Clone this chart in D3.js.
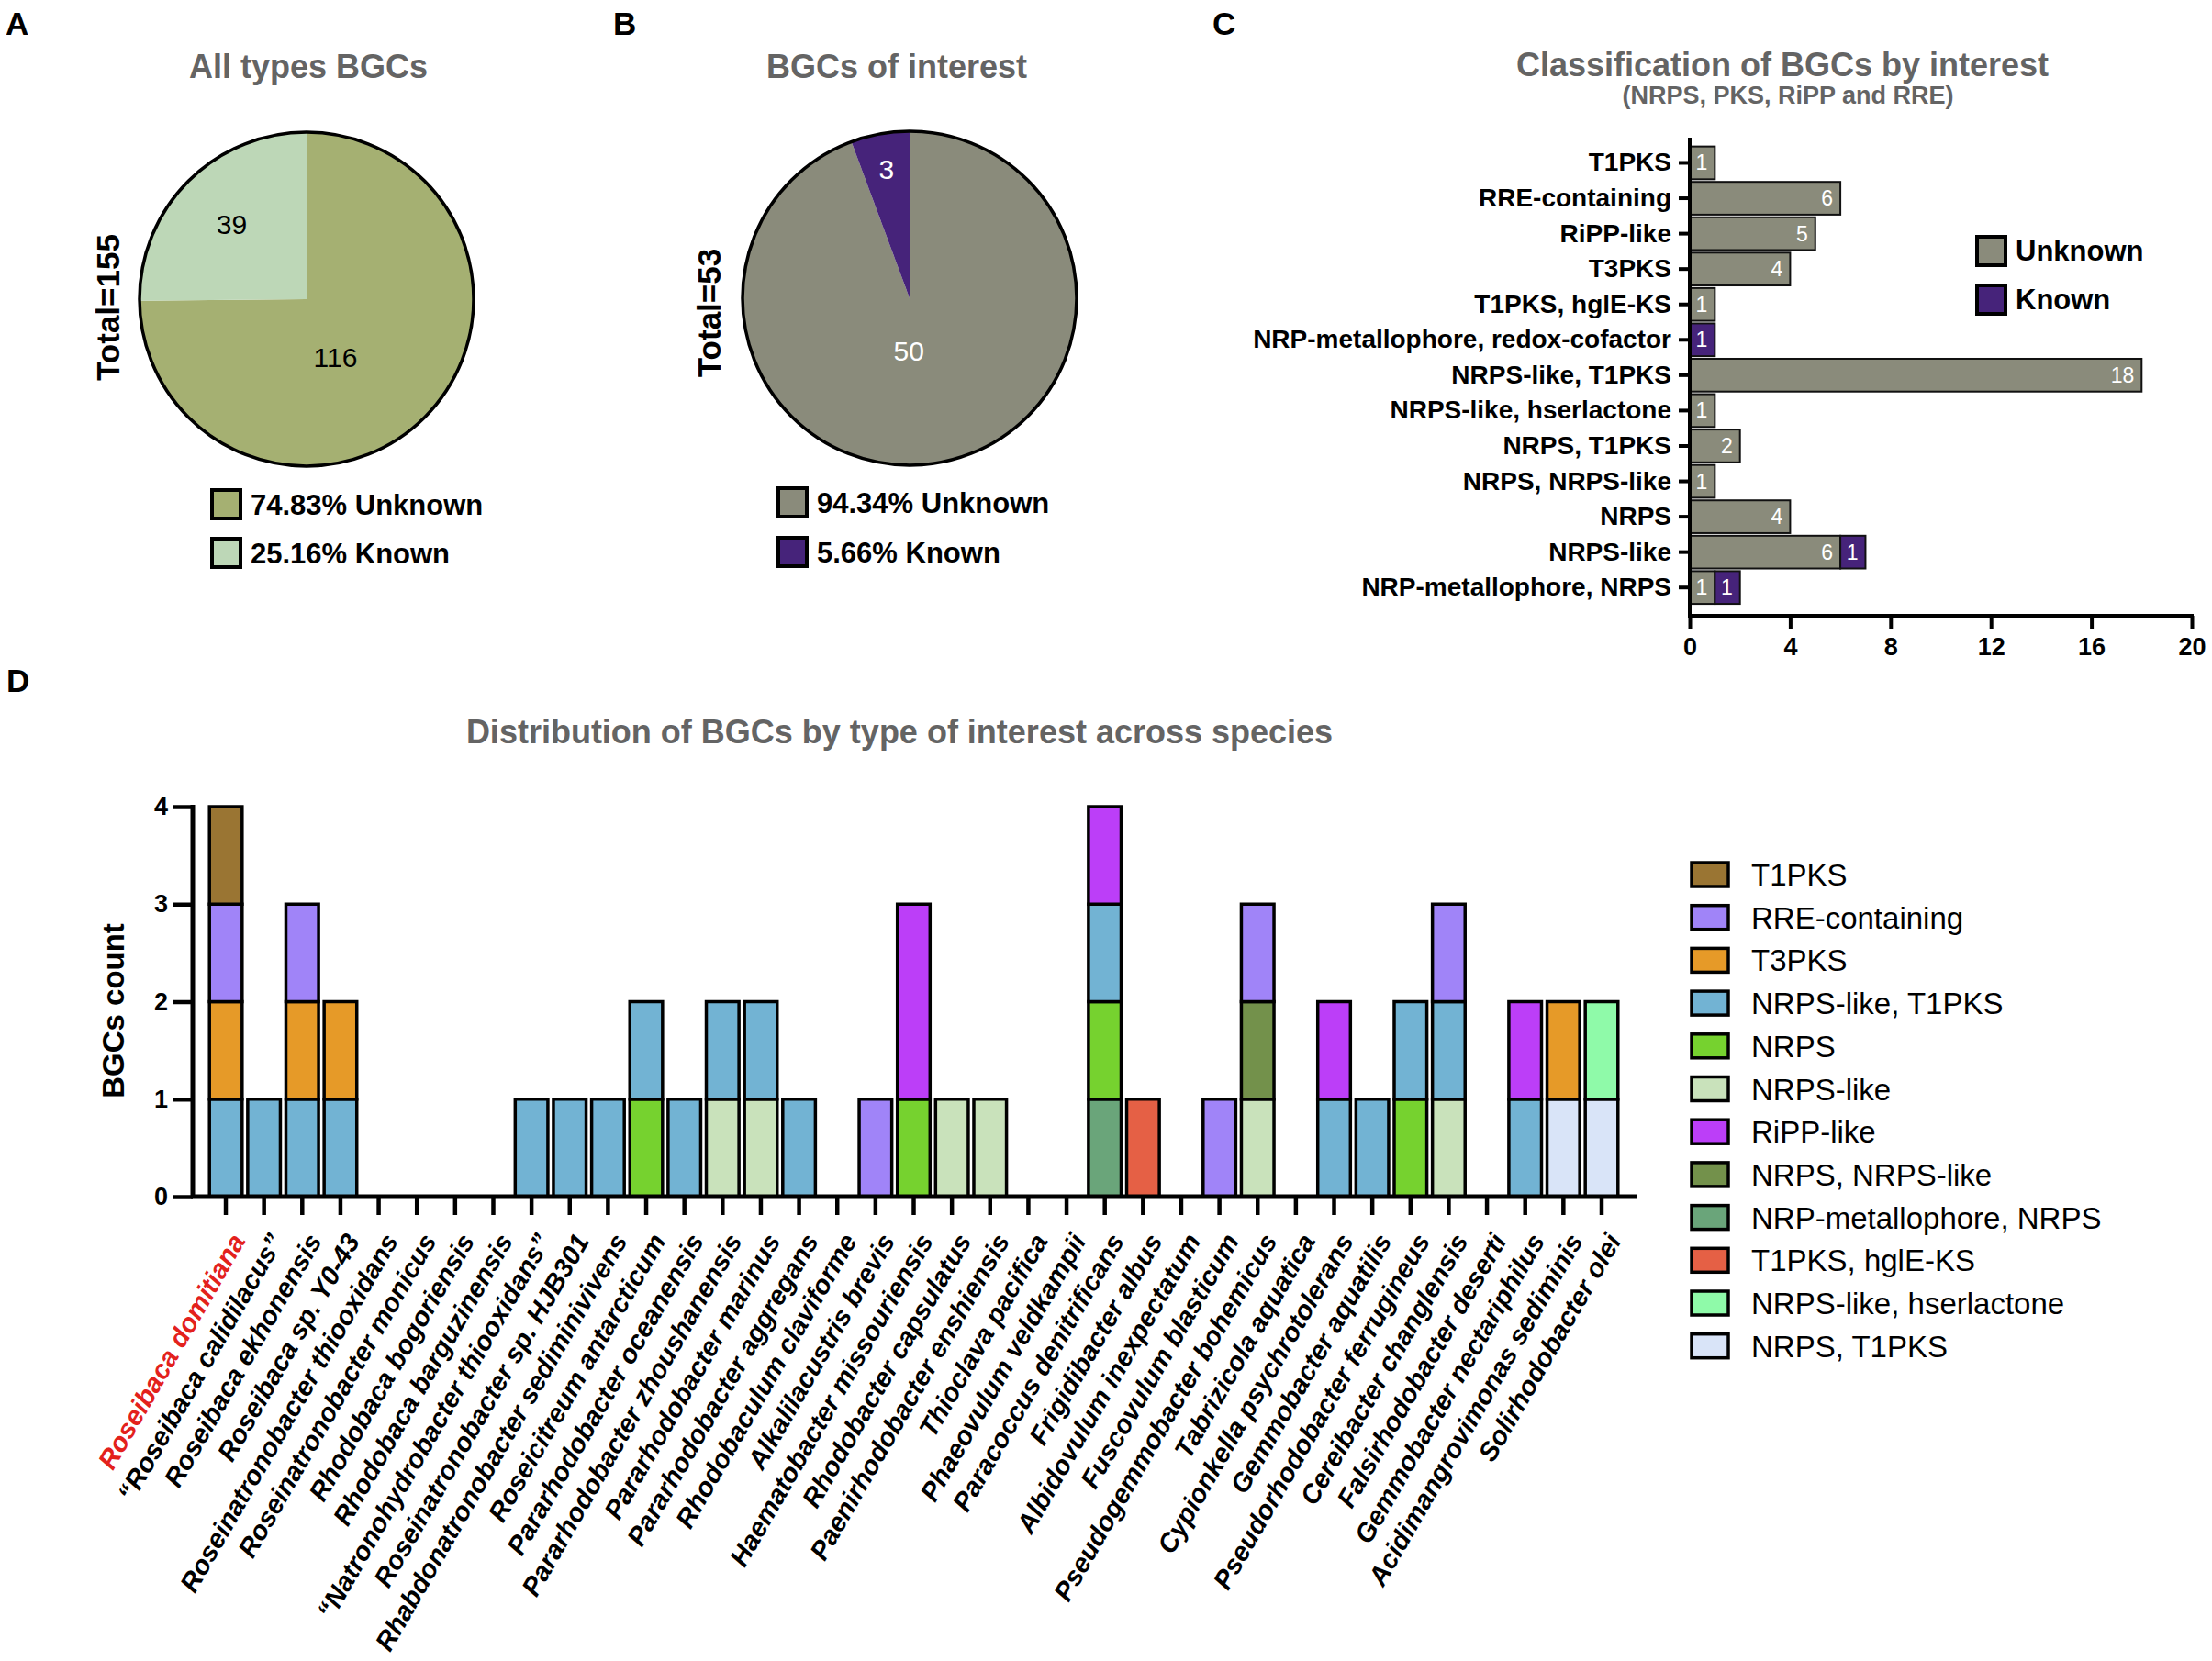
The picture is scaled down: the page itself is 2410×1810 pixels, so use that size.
<!DOCTYPE html>
<html><head><meta charset="utf-8">
<script src="https://cdn.jsdelivr.net/npm/d3@7/dist/d3.min.js"></script>
<style>body{margin:0;background:#fff}</style>
</head><body>
<svg id="chart" width="2410" height="1810" xmlns="http://www.w3.org/2000/svg"></svg>
<script>
// ---------------- DATA ----------------
const pieCategories = ["Unknown", "Known"];
const pieAValues = [116, 39];
const pieALegend = ["74.83% Unknown", "25.16% Known"];
const pieATotal = "Total=155";
const pieBValues = [50, 3];
const pieBLegend = ["94.34% Unknown", "5.66% Known"];
const pieBTotal = "Total=53";

const classCategories = ["T1PKS", "RRE-containing", "RiPP-like", "T3PKS", "T1PKS, hglE-KS",
  "NRP-metallophore, redox-cofactor", "NRPS-like, T1PKS", "NRPS-like, hserlactone", "NRPS, T1PKS",
  "NRPS, NRPS-like", "NRPS", "NRPS-like", "NRP-metallophore, NRPS"];
const classUnknown = [1, 6, 5, 4, 1, 0, 18, 1, 2, 1, 4, 6, 1];
const classKnown   = [0, 0, 0, 0, 0, 1, 0, 0, 0, 0, 0, 1, 1];
const classTicks = [0, 4, 8, 12, 16, 20];

const species = ["Roseibaca domitiana", "\u201CRoseibaca calidilacus\u201D", "Roseibaca ekhonensis",
  "Roseibaca sp. Y0-43", "Roseinatronobacter thiooxidans", "Roseinatronobacter monicus",
  "Rhodobaca bogoriensis", "Rhodobaca barguzinensis", "\u201CNatronohydrobacter thiooxidans\u201D",
  "Roseinatronobacter sp. HJB301", "Rhabdonatronobacter sediminivivens", "Roseicitreum antarcticum",
  "Pararhodobacter oceanensis", "Pararhodobacter zhoushanensis", "Pararhodobacter marinus",
  "Pararhodobacter aggregans", "Rhodobaculum claviforme", "Alkalilacustris brevis",
  "Haematobacter missouriensis", "Rhodobacter capsulatus", "Paenirhodobacter enshiensis",
  "Thioclava pacifica", "Phaeovulum veldkampii", "Paracoccus denitrificans", "Frigidibacter albus",
  "Albidovulum inexpectatum", "Fuscovulum blasticum", "Pseudogemmobacter bohemicus",
  "Tabrizicola aquatica", "Cypionkella psychrotolerans", "Gemmobacter aquatilis",
  "Pseudorhodobacter ferrugineus", "Cereibacter changlensis", "Falsirhodobacter deserti",
  "Gemmobacter nectariphilus", "Acidimangrovimonas sediminis", "Solirhodobacter olei"];
const highlightedSpecies = ["Roseibaca domitiana"];

// legend order of BGC types
const bgcTypes = ["T1PKS", "RRE-containing", "T3PKS", "NRPS-like, T1PKS", "NRPS", "NRPS-like",
  "RiPP-like", "NRPS, NRPS-like", "NRP-metallophore, NRPS", "T1PKS, hglE-KS",
  "NRPS-like, hserlactone", "NRPS, T1PKS"];
// stacking order, bottom to top
const stackOrder = ["NRPS, T1PKS", "NRP-metallophore, NRPS", "NRPS-like", "NRPS", "NRPS, NRPS-like",
  "T1PKS, hglE-KS", "NRPS-like, hserlactone", "NRPS-like, T1PKS", "RiPP-like", "T3PKS",
  "RRE-containing", "T1PKS"];
// counts per species (same order as species)
const cntT1PKS        = [1,0,0,0,0,0,0,0,0,0,0,0,0,0,0,0,0,0,0,0,0,0,0,0,0,0,0,0,0,0,0,0,0,0,0,0,0];
const cntRRE          = [1,0,1,0,0,0,0,0,0,0,0,0,0,0,0,0,0,1,0,0,0,0,0,0,0,0,1,1,0,0,0,0,1,0,0,0,0];
const cntT3PKS        = [1,0,1,1,0,0,0,0,0,0,0,0,0,0,0,0,0,0,0,0,0,0,0,0,0,0,0,0,0,0,0,0,0,0,0,1,0];
const cntNRPSlikeT1   = [1,1,1,1,0,0,0,0,1,1,1,1,1,1,1,1,0,0,0,0,0,0,0,1,0,0,0,0,0,1,1,1,1,0,1,0,0];
const cntNRPS         = [0,0,0,0,0,0,0,0,0,0,0,1,0,0,0,0,0,0,1,0,0,0,0,1,0,0,0,0,0,0,0,1,0,0,0,0,0];
const cntNRPSlike     = [0,0,0,0,0,0,0,0,0,0,0,0,0,1,1,0,0,0,0,1,1,0,0,0,0,0,0,1,0,0,0,0,1,0,0,0,0];
const cntRiPP         = [0,0,0,0,0,0,0,0,0,0,0,0,0,0,0,0,0,0,2,0,0,0,0,1,0,0,0,0,0,1,0,0,0,0,1,0,0];
const cntNRPSNRPSlike = [0,0,0,0,0,0,0,0,0,0,0,0,0,0,0,0,0,0,0,0,0,0,0,0,0,0,0,1,0,0,0,0,0,0,0,0,0];
const cntNRPmetNRPS   = [0,0,0,0,0,0,0,0,0,0,0,0,0,0,0,0,0,0,0,0,0,0,0,1,0,0,0,0,0,0,0,0,0,0,0,0,0];
const cntT1hglE       = [0,0,0,0,0,0,0,0,0,0,0,0,0,0,0,0,0,0,0,0,0,0,0,0,1,0,0,0,0,0,0,0,0,0,0,0,0];
const cntNRPSlikeHser = [0,0,0,0,0,0,0,0,0,0,0,0,0,0,0,0,0,0,0,0,0,0,0,0,0,0,0,0,0,0,0,0,0,0,0,0,1];
const cntNRPST1       = [0,0,0,0,0,0,0,0,0,0,0,0,0,0,0,0,0,0,0,0,0,0,0,0,0,0,0,0,0,0,0,0,0,0,0,1,1];
const countTicks = [0, 1, 2, 3, 4];

// ---------------- STYLE ----------------
const FONT = "'Liberation Sans', Arial, Helvetica, sans-serif";
const TITLE_GRAY = "#646464";
const pieAColors = ["#a5b072", "#bdd7b7"];
const pieBColors = ["#8a8b7b", "#46237a"];
const classColors = { Unknown: "#8a8b7b", Known: "#46237a" };
const typeColors = {
  "T1PKS": "#9a7533", "RRE-containing": "#a084f8", "T3PKS": "#e69a28",
  "NRPS-like, T1PKS": "#72b3d3", "NRPS": "#76d22f", "NRPS-like": "#c9e2bb",
  "RiPP-like": "#bc3ef8", "NRPS, NRPS-like": "#73914b", "NRP-metallophore, NRPS": "#6aa57a",
  "T1PKS, hglE-KS": "#e56045", "NRPS-like, hserlactone": "#8ffaa9", "NRPS, T1PKS": "#d9e4f8"
};

const svg = d3.select("#chart");
svg.append("rect").attr("width", 2410).attr("height", 1810).attr("fill", "#fff");

function txt(g, x, y, s, size, opts = {}) {
  return g.append("text").attr("x", x).attr("y", y).text(s)
    .attr("font-family", FONT).attr("font-size", size)
    .attr("font-weight", opts.weight || "bold")
    .attr("font-style", opts.style || "normal")
    .attr("fill", opts.fill || "#000")
    .attr("text-anchor", opts.anchor || "start");
}

// panel letters
const panelLetters = ["A", "B", "C", "D"];
const letterX = [6, 668, 1321, 7], letterY = [38, 38, 38, 754];
panelLetters.forEach((l, i) => txt(svg, letterX[i], letterY[i], l, 35));

// ---------------- PIES ----------------
function drawPie(cfg) {
  const g = svg.append("g");
  txt(g, cfg.titleX, 85, cfg.title, 36, { fill: TITLE_GRAY, anchor: "middle" });
  const pie = d3.pie().sort(null).value(d => d)(cfg.values);
  const arc = d3.arc().innerRadius(0).outerRadius(cfg.r);
  const pg = g.append("g").attr("transform", `translate(${cfg.cx},${cfg.cy})`);
  pg.selectAll("path.sl").data(pie).join("path").attr("class", "sl")
    .attr("d", arc).attr("fill", (d, i) => cfg.colors[i]);
  pg.append("circle").attr("r", cfg.r).attr("fill", "none").attr("stroke", "#000").attr("stroke-width", 3.5);
  pie.forEach((d, i) => {
    const a = (d.startAngle + d.endAngle) / 2 + cfg.labelShift[i] * Math.PI / 180;
    const rr = cfg.r * cfg.labelFrac[i];
    txt(pg, Math.sin(a) * rr, -Math.cos(a) * rr + 10, String(d.data), 30,
      { weight: "normal", fill: cfg.labelColor, anchor: "middle" });
  });
  g.append("text").attr("transform", `translate(${cfg.totalX},${cfg.totalY}) rotate(-90)`)
    .attr("text-anchor", "middle").attr("font-family", FONT).attr("font-size", 35)
    .attr("font-weight", "bold").text(cfg.total);
  cfg.legend.forEach((s, i) => {
    const y = cfg.legY + i * cfg.legStep;
    g.append("rect").attr("x", cfg.legX).attr("y", y).attr("width", 31).attr("height", 31)
      .attr("fill", cfg.colors[i]).attr("stroke", "#000").attr("stroke-width", 4);
    txt(g, cfg.legX + 42, y + 27, s, 31);
  });
}
drawPie({ title: "All types BGCs", titleX: 336, values: pieAValues, colors: pieAColors,
  cx: 334, cy: 326, r: 182, labelFrac: [0.39, 0.63], labelShift: [19, 0], labelColor: "#000",
  total: pieATotal, totalX: 130, totalY: 335, legend: pieALegend, legX: 231, legY: 534, legStep: 53 });
drawPie({ title: "BGCs of interest", titleX: 977, values: pieBValues, colors: pieBColors,
  cx: 991, cy: 325, r: 182, labelFrac: [0.32, 0.78], labelShift: [11, 0], labelColor: "#fff",
  total: pieBTotal, totalX: 785, totalY: 341, legend: pieBLegend, legX: 848, legY: 532, legStep: 54 });

// ---------------- PANEL C ----------------
{
  const g = svg.append("g");
  txt(g, 1942, 83, "Classification of BGCs by interest", 36, { fill: TITLE_GRAY, anchor: "middle" });
  txt(g, 1948, 113, "(NRPS, PKS, RiPP and RRE)", 27, { fill: TITLE_GRAY, anchor: "middle" });
  const x = d3.scaleLinear().domain([0, 20]).range([1841, 2388]);
  const y = d3.scaleBand().domain(classCategories).range([158.2, 659.5]).paddingInner(0.074).paddingOuter(0.037);
  const rows = classCategories.map((c, i) => ({ c, u: classUnknown[i], k: classKnown[i] }));
  const segs = [];
  rows.forEach(r => {
    if (r.u > 0) segs.push({ c: r.c, x0: 0, x1: r.u, v: r.u, t: "Unknown" });
    if (r.k > 0) segs.push({ c: r.c, x0: r.u, x1: r.u + r.k, v: r.k, t: "Known" });
  });
  g.selectAll("rect.cb").data(segs).join("rect").attr("class", "cb")
    .attr("x", d => x(d.x0)).attr("width", d => x(d.x1) - x(d.x0))
    .attr("y", d => y(d.c)).attr("height", y.bandwidth())
    .attr("fill", d => classColors[d.t]).attr("stroke", "#111").attr("stroke-width", 2);
  g.selectAll("text.cv").data(segs).join("text").attr("class", "cv")
    .attr("x", d => x(d.x1) - 8).attr("y", d => y(d.c) + y.bandwidth() / 2 + 8)
    .attr("text-anchor", "end").attr("font-family", FONT).attr("font-size", 23)
    .attr("fill", "#fff").text(d => d.v);
  // axes
  const ya = g.append("g").attr("transform", `translate(${x(0)},0)`)
    .call(d3.axisLeft(y).tickSize(12).tickPadding(8));
  ya.select(".domain").remove();
  ya.selectAll(".tick line").attr("stroke", "#000").attr("stroke-width", 4);
  ya.selectAll(".tick text").attr("font-family", FONT).attr("font-size", 28).attr("font-weight", "bold").attr("fill", "#000");
  g.append("line").attr("x1", x(0)).attr("x2", x(0)).attr("y1", 150).attr("y2", 673)
    .attr("stroke", "#000").attr("stroke-width", 4);
  const xa = g.append("g").attr("transform", "translate(0,671)")
    .call(d3.axisBottom(x).tickValues(classTicks).tickSize(14).tickPadding(10));
  xa.select(".domain").remove();
  xa.selectAll(".tick line").attr("stroke", "#000").attr("stroke-width", 4);
  xa.selectAll(".tick text").attr("font-family", FONT).attr("font-size", 27).attr("font-weight", "bold").attr("fill", "#000");
  g.append("line").attr("x1", x(0) - 2).attr("x2", x(20) + 2).attr("y1", 671).attr("y2", 671)
    .attr("stroke", "#000").attr("stroke-width", 4);
  // legend
  pieCategories.forEach((c, i) => {
    const yy = 258 + i * 53;
    g.append("rect").attr("x", 2154).attr("y", yy).attr("width", 31).attr("height", 31)
      .attr("fill", classColors[c]).attr("stroke", "#000").attr("stroke-width", 4);
    txt(g, 2196, yy + 26, c, 31);
  });
}

// ---------------- PANEL D ----------------
{
  const g = svg.append("g");
  txt(g, 980, 810, "Distribution of BGCs by type of interest across species", 36, { fill: TITLE_GRAY, anchor: "middle" });
  const countsByType = {
    "T1PKS": cntT1PKS, "RRE-containing": cntRRE, "T3PKS": cntT3PKS, "NRPS-like, T1PKS": cntNRPSlikeT1,
    "NRPS": cntNRPS, "NRPS-like": cntNRPSlike, "RiPP-like": cntRiPP, "NRPS, NRPS-like": cntNRPSNRPSlike,
    "NRP-metallophore, NRPS": cntNRPmetNRPS, "T1PKS, hglE-KS": cntT1hglE,
    "NRPS-like, hserlactone": cntNRPSlikeHser, "NRPS, T1PKS": cntNRPST1
  };
  const table = species.map((s, i) => {
    const o = { species: s };
    bgcTypes.forEach(t => o[t] = countsByType[t][i]);
    return o;
  });
  const x = d3.scaleBand().domain(species).range([225.2, 1765.8]).paddingInner(0.145).paddingOuter(0.0725);
  const y = d3.scaleLinear().domain([0, 4]).range([1304, 879]);
  const stacked = d3.stack().keys(stackOrder)(table);
  stacked.forEach(layer => {
    g.selectAll(null).data(layer.filter(d => d[1] > d[0])).join("rect")
      .attr("x", d => x(d.data.species)).attr("width", x.bandwidth())
      .attr("y", d => y(d[1])).attr("height", d => y(d[0]) - y(d[1]))
      .attr("fill", typeColors[layer.key]).attr("stroke", "#000").attr("stroke-width", 3.5);
  });
  // y axis
  const ya = g.append("g").attr("transform", "translate(210,0)")
    .call(d3.axisLeft(y).tickValues(countTicks).tickFormat(d3.format("d")).tickSize(21).tickPadding(6));
  ya.select(".domain").remove();
  ya.selectAll(".tick line").attr("stroke", "#000").attr("stroke-width", 4.5);
  ya.selectAll(".tick text").attr("font-family", FONT).attr("font-size", 27).attr("font-weight", "bold").attr("fill", "#000");
  g.append("line").attr("x1", 210).attr("x2", 210).attr("y1", y(4) - 2).attr("y2", y(0) + 2)
    .attr("stroke", "#000").attr("stroke-width", 5);
  g.append("text").attr("transform", `translate(135,${(y(0) + y(4)) / 2 + 10}) rotate(-90)`)
    .attr("text-anchor", "middle").attr("font-family", FONT).attr("font-size", 33)
    .attr("font-weight", "bold").text("BGCs count");
  // x axis
  g.append("line").attr("x1", 208).attr("x2", 1783).attr("y1", y(0)).attr("y2", y(0))
    .attr("stroke", "#000").attr("stroke-width", 5);
  g.selectAll("line.xt").data(species).join("line").attr("class", "xt")
    .attr("x1", d => x(d) + x.bandwidth() / 2).attr("x2", d => x(d) + x.bandwidth() / 2)
    .attr("y1", y(0)).attr("y2", y(0) + 20).attr("stroke", "#000").attr("stroke-width", 4.5);
  g.selectAll("text.xl").data(species).join("text").attr("class", "xl")
    .attr("transform", d => `translate(${x(d) + x.bandwidth() / 2 + 22},1352) rotate(-60)`)
    .attr("text-anchor", "end").attr("font-family", FONT).attr("font-size", 29)
    .attr("font-weight", "bold").attr("font-style", "italic")
    .attr("fill", d => highlightedSpecies.includes(d) ? "#e3211c" : "#000").text(d => d);
  // legend
  bgcTypes.forEach((t, i) => {
    const cy = 953 + i * 46.7;
    g.append("rect").attr("x", 1843).attr("y", cy - 13).attr("width", 40).attr("height", 26)
      .attr("fill", typeColors[t]).attr("stroke", "#000").attr("stroke-width", 3.5);
    txt(g, 1908, cy + 12, t, 33, { weight: "normal" });
  });
}
</script>
</body></html>
